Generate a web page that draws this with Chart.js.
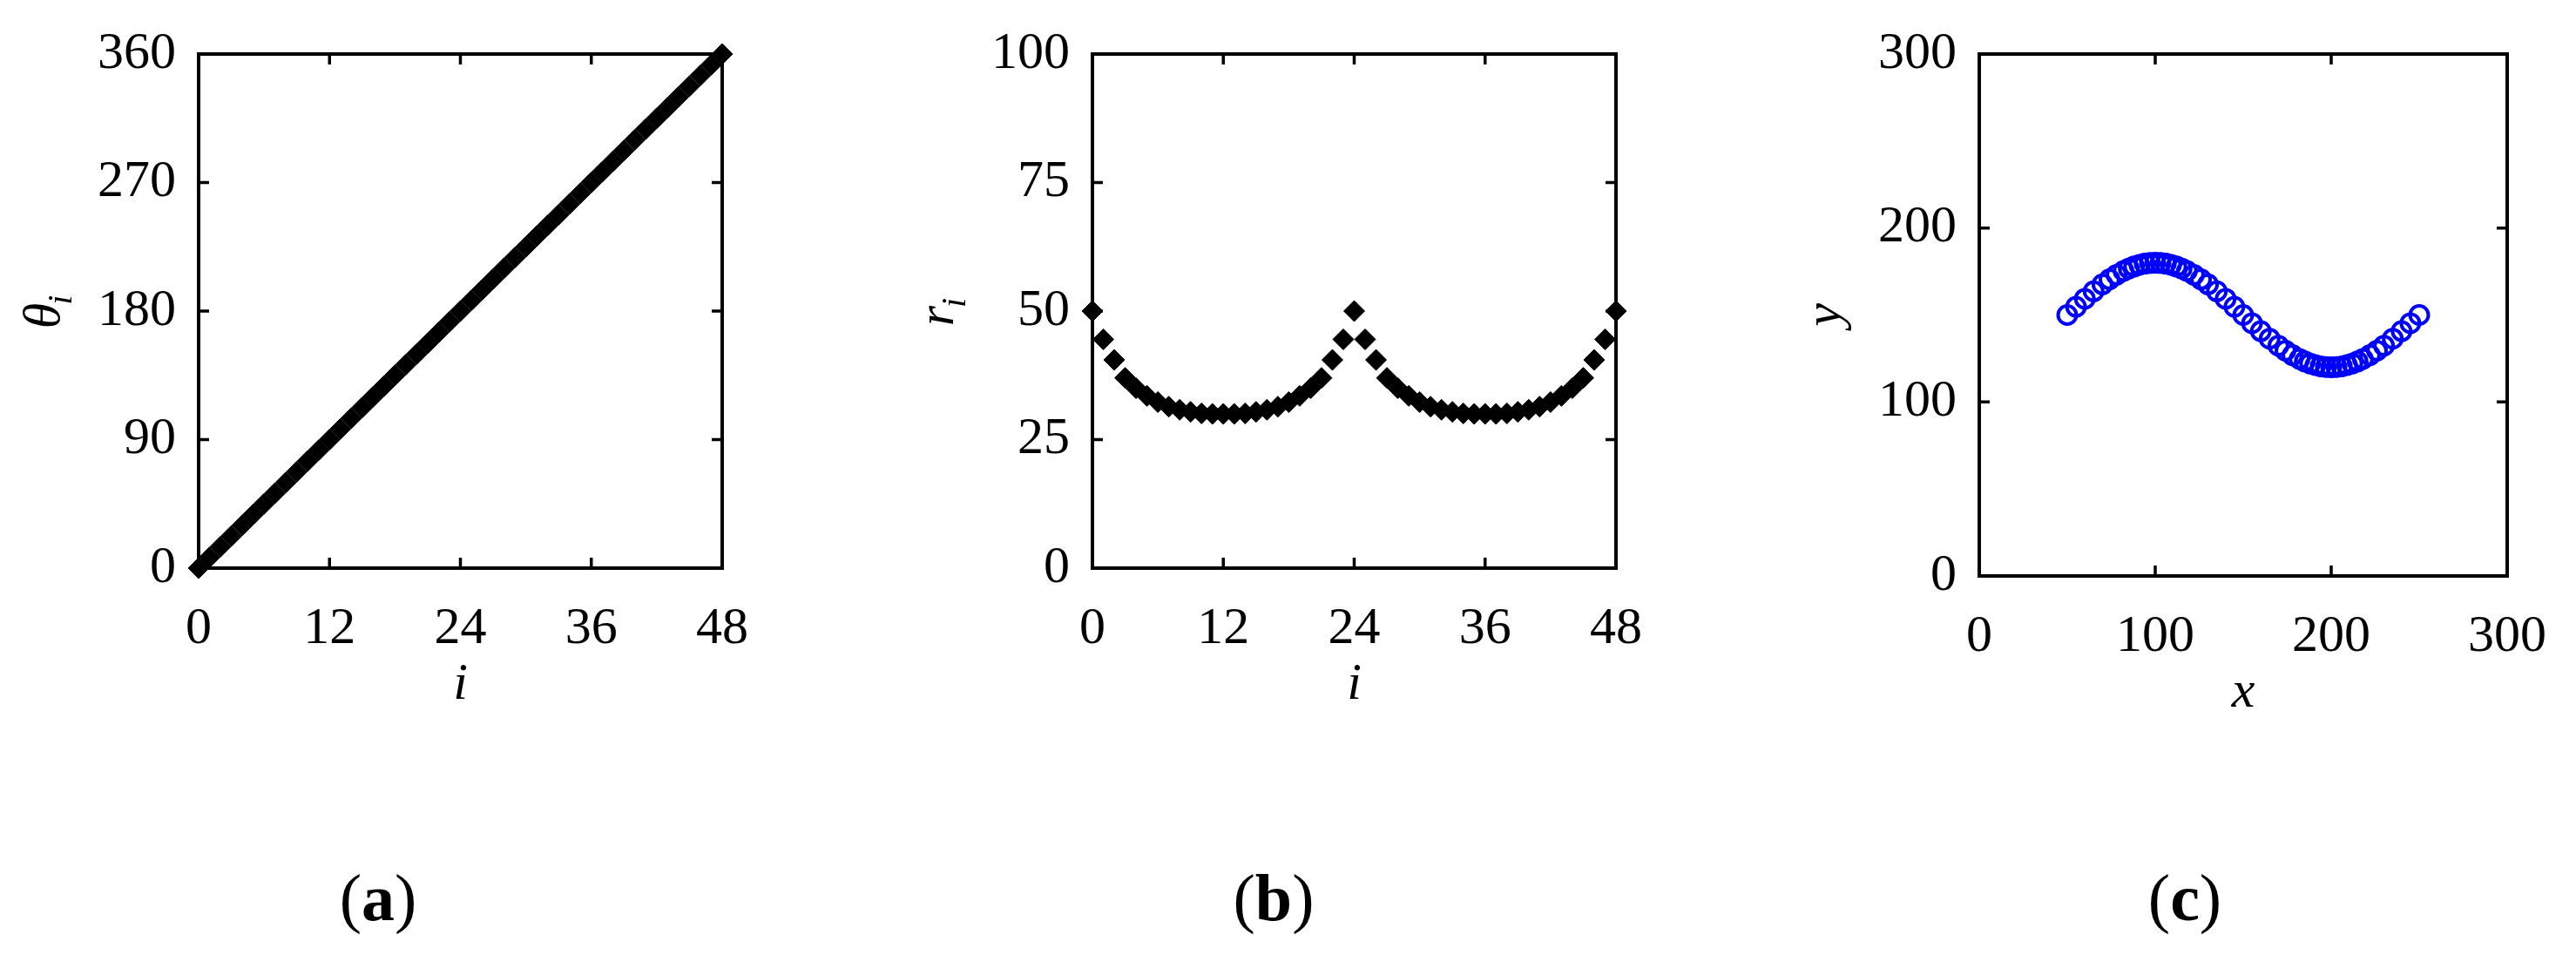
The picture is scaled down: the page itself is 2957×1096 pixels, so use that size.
<!DOCTYPE html>
<html>
<head>
<meta charset="utf-8">
<script src="https://cdn.jsdelivr.net/npm/chart.js@4.4.1/dist/chart.umd.min.js"></script>
<style>
  html, body { margin: 0; padding: 0; background: #fff; }
  #page { position: relative; width: 2957px; height: 1096px; background: #fff; overflow: hidden; }
  canvas { position: absolute; top: 0; }
  .caption {
    position: absolute; top: 1030px; transform: translate(-50%, -50%);
    font-family: 'Liberation Serif', 'Times New Roman', serif; font-size: 76px; color: #000;
    white-space: nowrap;
  }
</style>
</head>
<body>
<div id="page">
  <canvas id="chart-a" width="950" height="880" style="left:0px"></canvas>
  <canvas id="chart-b" width="950" height="880" style="left:1000px"></canvas>
  <canvas id="chart-c" width="957" height="880" style="left:2000px"></canvas>
  <div class="caption" style="left:434px">(<b>a</b>)</div>
  <div class="caption" style="left:1462px">(<b>b</b>)</div>
  <div class="caption" style="left:2508px">(<b>c</b>)</div>
</div>
<script>
// index i (shared by panels a and b)
const indexValues = [0, 1, 2, 3, 4, 5, 6, 7, 8, 9, 10, 11, 12, 13, 14, 15, 16, 17, 18, 19, 20, 21, 22, 23, 24,
    25, 26, 27, 28, 29, 30, 31, 32, 33, 34, 35, 36, 37, 38, 39, 40, 41, 42, 43, 44, 45, 46, 47, 48];

// panel (a): theta_i
const thetaValues = [0, 7.5, 15, 22.5, 30, 37.5, 45, 52.5, 60, 67.5, 75, 82.5, 90, 97.5, 105, 112.5, 120,
    127.5, 135, 142.5, 150, 157.5, 165, 172.5, 180, 187.5, 195, 202.5, 210, 217.5, 225, 232.5, 240,
    247.5, 255, 262.5, 270, 277.5, 285, 292.5, 300, 307.5, 315, 322.5, 330, 337.5, 345, 352.5, 360];

// panel (b): r_i
const radiusValues = [50, 44.5, 40.5, 37, 35, 33.5, 32.3, 31.4, 30.8, 30.4, 30.1, 30, 30, 30, 30.1, 30.4,
    30.8, 31.4, 32.3, 33.5, 35, 37, 40.5, 44.5, 50, 44.5, 40.5, 37, 35, 33.5, 32.3, 31.4, 30.8, 30.4,
    30.1, 30, 30, 30, 30.1, 30.4, 30.8, 31.4, 32.3, 33.5, 35, 37, 40.5, 44.5, 50];

// panel (c): x, y
const curveX = [50, 55, 60, 65, 70, 74, 78, 82, 85, 88, 91, 94, 97, 100, 103, 106, 109, 112, 115, 118,
    122, 126, 130, 135, 140, 145, 150, 155, 160, 165, 170, 174, 178, 182, 185, 188, 191, 194, 197, 200,
    203, 206, 209, 212, 215, 218, 222, 226, 230, 235, 240, 245, 250];
const curveY = [150, 154.7, 159.3, 163.6, 167.6, 170.5, 173.1, 175.3, 176.7, 177.9, 178.8, 179.5, 179.9,
    180, 179.9, 179.5, 178.8, 177.9, 176.7, 175.3, 173.1, 170.5, 167.6, 163.6, 159.3, 154.7, 150, 145.3,
    140.7, 136.4, 132.4, 129.5, 126.9, 124.7, 123.3, 122.1, 121.2, 120.5, 120.1, 120, 120.1, 120.5,
    121.2, 122.1, 123.3, 124.7, 126.9, 129.5, 132.4, 136.4, 140.7, 145.3, 150];

// tick labels
const indexTicks = [0, 12, 24, 36, 48];
const thetaTicks = [0, 90, 180, 270, 360];
const radiusTicks = [0, 25, 50, 75, 100];
const curveTicks = [0, 100, 200, 300];

const FONT = "'Liberation Serif', 'Times New Roman', serif";
const TICK_LEN = 12;

function toPoints(xs, ys) {
    return xs.map((x, k) => ({ x: x, y: ys[k] }));
}

// box around the plot area plus inward tick marks on all four sides
const framePlugin = {
    id: 'frame',
    beforeDatasetsDraw(chart) {
        const { ctx, chartArea: a, scales } = chart;
        ctx.save();
        ctx.strokeStyle = '#000';
        ctx.lineCap = 'butt';
        ctx.lineWidth = 3.5;
        ctx.beginPath();
        scales.x.ticks.forEach(t => {
            const px = scales.x.getPixelForValue(t.value);
            if (px - a.left < 2 || a.right - px < 2) return;
            ctx.moveTo(px, a.bottom); ctx.lineTo(px, a.bottom - TICK_LEN);
            ctx.moveTo(px, a.top); ctx.lineTo(px, a.top + TICK_LEN);
        });
        scales.y.ticks.forEach(t => {
            const py = scales.y.getPixelForValue(t.value);
            if (py - a.top < 2 || a.bottom - py < 2) return;
            ctx.moveTo(a.left, py); ctx.lineTo(a.left + TICK_LEN, py);
            ctx.moveTo(a.right, py); ctx.lineTo(a.right - TICK_LEN, py);
        });
        ctx.stroke();
        ctx.lineWidth = 4;
        ctx.lineJoin = 'miter';
        ctx.strokeRect(a.left, a.top, a.right - a.left, a.bottom - a.top);
        ctx.restore();
    }
};

// italic axis titles with an optional subscript
const titlePlugin = {
    id: 'axisTitles',
    afterDraw(chart, args, opts) {
        const { ctx, chartArea: a } = chart;
        ctx.save();
        ctx.fillStyle = '#000';
        ctx.textBaseline = 'alphabetic';
        // x title
        ctx.font = 'italic 60px ' + FONT;
        ctx.textAlign = 'center';
        ctx.fillText(opts.x, (a.left + a.right) / 2, a.bottom + 150);
        // y title, rotated
        ctx.translate(a.left - 178, (a.top + a.bottom) / 2);
        ctx.rotate(-Math.PI / 2);
        ctx.textAlign = 'left';
        ctx.font = 'italic 60px ' + FONT;
        const w1 = ctx.measureText(opts.y).width;
        let w2 = 0;
        if (opts.sub) {
            ctx.font = 'italic 40px ' + FONT;
            w2 = ctx.measureText(opts.sub).width;
        }
        const x0 = -(w1 + w2) / 2;
        ctx.font = 'italic 60px ' + FONT;
        ctx.fillText(opts.y, x0, 18);
        if (opts.sub) {
            ctx.font = 'italic 40px ' + FONT;
            ctx.fillText(opts.sub, x0 + w1 - 2, 32);
        }
        ctx.restore();
    }
};

function fixedScale(size, min, max, tickValues, pad) {
    return {
        type: 'linear',
        min: min,
        max: max,
        afterBuildTicks: s => { s.ticks = tickValues.map(v => ({ value: v })); },
        afterFit: s => {
            if (s.isHorizontal()) s.height = size; else s.width = size;
        },
        grid: { display: false, drawTicks: false },
        border: { display: false },
        ticks: {
            color: '#000',
            padding: pad,
            maxRotation: 0,
            font: { family: FONT, size: 60 }
        }
    };
}

function createPanel(id, cfg) {
    const ctx = document.getElementById(id).getContext('2d');
    return new Chart(ctx, {
        type: 'scatter',
        data: {
            datasets: [{
                data: cfg.points,
                pointStyle: cfg.pointStyle,
                pointRadius: cfg.radius,
                pointHoverRadius: cfg.radius,
                backgroundColor: cfg.fill,
                borderColor: cfg.stroke,
                borderWidth: cfg.borderWidth,
                clip: false
            }]
        },
        options: {
            responsive: false,
            animation: false,
            devicePixelRatio: 1,
            layout: { padding: cfg.padding },
            plugins: {
                legend: { display: false },
                tooltip: { enabled: false },
                axisTitles: cfg.titles
            },
            scales: {
                x: fixedScale(cfg.xAxisHeight, cfg.xMin, cfg.xMax, cfg.xTicks, 34),
                y: fixedScale(cfg.yAxisWidth, cfg.yMin, cfg.yMax, cfg.yTicks, 26)
            }
        },
        plugins: [framePlugin, titlePlugin]
    });
}

createPanel('chart-a', {
    points: toPoints(indexValues, thetaValues),
    pointStyle: 'rectRot', radius: 12, fill: '#000', stroke: '#000', borderWidth: 1,
    padding: { left: 0, top: 52, right: 121, bottom: 0 },
    yAxisWidth: 228, xAxisHeight: 228,
    xMin: 0, xMax: 48, xTicks: indexTicks,
    yMin: 0, yMax: 360, yTicks: thetaTicks,
    titles: { x: 'i', y: 'θ', sub: 'i' }
});

createPanel('chart-b', {
    points: toPoints(indexValues, radiusValues),
    pointStyle: 'rectRot', radius: 12, fill: '#000', stroke: '#000', borderWidth: 1,
    padding: { left: 0, top: 52, right: 95, bottom: 0 },
    yAxisWidth: 254, xAxisHeight: 228,
    xMin: 0, xMax: 48, xTicks: indexTicks,
    yMin: 0, yMax: 100, yTicks: radiusTicks,
    titles: { x: 'i', y: 'r', sub: 'i' }
});

createPanel('chart-c', {
    points: toPoints(curveX, curveY),
    pointStyle: 'circle', radius: 10.5, fill: 'rgba(0,0,0,0)', stroke: '#0000ff', borderWidth: 4,
    padding: { left: 0, top: 52, right: 77, bottom: 0 },
    yAxisWidth: 272, xAxisHeight: 219,
    xMin: 0, xMax: 300, xTicks: curveTicks,
    yMin: 0, yMax: 300, yTicks: curveTicks,
    titles: { x: 'x', y: 'y', sub: '' }
});
</script>
</body>
</html>
